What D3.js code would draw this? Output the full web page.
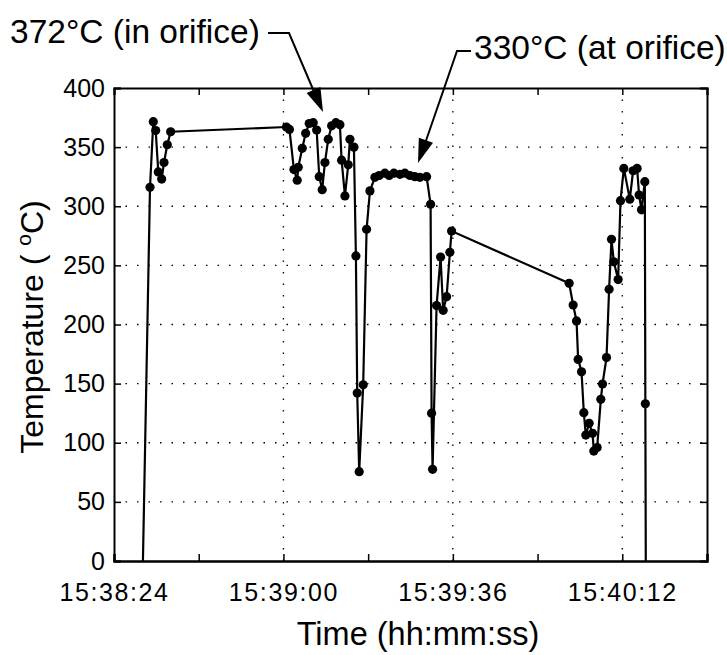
<!DOCTYPE html>
<html><head><meta charset="utf-8">
<script src="https://cdn.jsdelivr.net/npm/d3@7"></script>
<style>body{margin:0;background:#fff}svg{display:block}</style>
</head><body><svg id="c" width="727" height="655"></svg>
<script>
// seconds after 15:38:24
const timeSec = [6.10,7.65,8.35,8.86,9.41,10.13,10.62,11.32,12.04,36.64,37.28,38.23,38.93,39.15,40.0,40.72,41.48,42.33,43.06,43.61,44.24,44.82,45.52,46.24,47.15,48.0,48.36,49.07,49.77,50.13,50.98,51.4,51.68,52.1,52.95,53.67,54.38,55.44,56.35,57.56,58.47,59.47,60.75,61.81,62.87,63.93,65.0,66.42,67.27,67.48,67.69,68.54,69.39,69.94,70.67,71.37,71.73,96.71,97.56,98.28,98.62,99.34,99.83,100.25,100.96,101.68,101.95,102.66,103.44,103.8,104.65,105.2,105.71,106.2,107.12,107.62,108.33,109.6,110.3,111.15,111.57,112.08,112.79,112.9,113.0];
const tempC = [-10,316,371.5,364,329,323,337,352,363,367,365,331,322,333,349,361.7,370,370.7,364.5,325,314,337,356.6,368,370.7,369,339,308.7,335,356.6,350,258,142,75.5,149,280.5,313,324.5,326,328,326,328,327,328,326,325,324.5,325,301.6,125,77.5,216,257,212,223.5,261,279,234.8,216.5,203,170.5,160,125.4,106.5,116.4,108,93,96,136.7,149.7,172,229.8,272,253,238,304.7,332,306,330,332,309.5,297,320.8,133,-10];
const xTickSec = [0,36,72,108];
const xTickLabels = ["15:38:24","15:39:00","15:39:36","15:40:12"];
const xMinorSec = [18,54,90,126];
const yTicks = [0,50,100,150,200,250,300,350,400];
const annotations = ["372\u00B0C (in orifice)","330\u00B0C (at orifice)"];

const svg = d3.select("#c");
const font = "'Liberation Sans', Arial, Helvetica, sans-serif";
const x = d3.scaleLinear().domain([0,126]).range([114,707]);
const y = d3.scaleLinear().domain([0,400]).range([561,88]);

svg.append("defs").append("clipPath").attr("id","clip")
  .append("rect").attr("x",114).attr("y",88).attr("width",593).attr("height",473);

// grid
const g = svg.append("g");
g.selectAll(".hg").data(yTicks.slice(1,-1)).join("line")
  .attr("x1",114).attr("x2",707).attr("y1",d=>y(d)).attr("y2",d=>y(d))
  .attr("stroke","#000").attr("stroke-width",1.3).attr("stroke-dasharray","1.5,10");
g.selectAll(".vg").data(xTickSec.slice(1)).join("line")
  .attr("y1",88).attr("y2",561).attr("x1",d=>x(d)).attr("x2",d=>x(d))
  .attr("stroke","#000").attr("stroke-width",1.3).attr("stroke-dasharray","1.5,10");

// axes with inward ticks
const axB = d3.axisBottom(x).tickValues(xTickSec).tickSize(-7).tickFormat((d,i)=>xTickLabels[i]).tickPadding(22);
const axT = d3.axisTop(x).tickValues(xTickSec.concat(xMinorSec)).tickSize(-7).tickFormat("");
const axBm = d3.axisBottom(x).tickValues(xMinorSec).tickSize(-7).tickFormat("");
const axL = d3.axisLeft(y).tickValues(yTicks).tickSize(-7).tickPadding(9);
const axR = d3.axisRight(y).tickValues(yTicks).tickSize(-7).tickFormat("");
function style(sel){
  sel.select(".domain").attr("stroke","#000").attr("stroke-width",2);
  sel.selectAll(".tick line").attr("stroke","#000").attr("stroke-width",1.5);
  sel.selectAll("text").attr("font-family",font).attr("font-size",25).attr("fill","#000");
}
svg.append("g").attr("transform","translate(0,561)").call(axB).call(style)
  .selectAll("text").attr("letter-spacing","1.6px");
svg.append("g").attr("transform","translate(0,561)").call(axBm).call(style);
svg.append("g").attr("transform","translate(0,88)").call(axT).call(style);
svg.append("g").attr("transform","translate(114,0)").call(axL).call(style);
svg.append("g").attr("transform","translate(707,0)").call(axR).call(style);

// data
const pts = timeSec.map((t,i)=>[t,tempC[i]]);
const pg = svg.append("g").attr("clip-path","url(#clip)");
pg.append("path").datum(pts)
  .attr("d", d3.line().x(d=>x(d[0])).y(d=>y(d[1])))
  .attr("fill","none").attr("stroke","#000").attr("stroke-width",2.2);
pg.selectAll("circle").data(pts).join("circle")
  .attr("cx",d=>x(d[0])).attr("cy",d=>y(d[1])).attr("r",4.6).attr("fill","#000");

// axis titles
svg.append("text").attr("x",418).attr("y",645).attr("text-anchor","middle")
  .attr("font-family",font).attr("font-size",32.5).text("Time (hh:mm:ss)");
const yl = svg.append("text").attr("transform","translate(43,327) rotate(-90)")
  .attr("text-anchor","middle").attr("font-family",font).attr("font-size",32);
yl.append("tspan").text("Temperature ( ");
yl.append("tspan").attr("font-size",21).attr("dy",-12).text("o");
yl.append("tspan").attr("dy",12).text("C)");

// annotations
svg.append("text").attr("x",10).attr("y",43).attr("font-family",font).attr("font-size",33.5).text(annotations[0]);
svg.append("text").attr("x",474).attr("y",59).attr("font-family",font).attr("font-size",33.5).text(annotations[1]);
const ann = svg.append("g").attr("stroke","#000").attr("stroke-width",2).attr("fill","none");
function arrow(pathPts, tip, from){
  ann.append("path").attr("d", d3.line()(pathPts));
  const ang = Math.atan2(tip[1]-from[1], tip[0]-from[0]);
  const L=24, W=7.5;
  const bx = tip[0]-L*Math.cos(ang), by = tip[1]-L*Math.sin(ang);
  const px = -Math.sin(ang)*W, py = Math.cos(ang)*W;
  svg.append("path").attr("d", d3.line()([[tip[0],tip[1]],[bx+px,by+py],[bx-px,by-py]])+"Z").attr("fill","#000");
}
arrow([[268,33],[289,33],[321,108]], [323,112], [289,33]);
arrow([[471,51],[457,51],[420,158]], [418,163], [457,51]);
</script></body></html>
